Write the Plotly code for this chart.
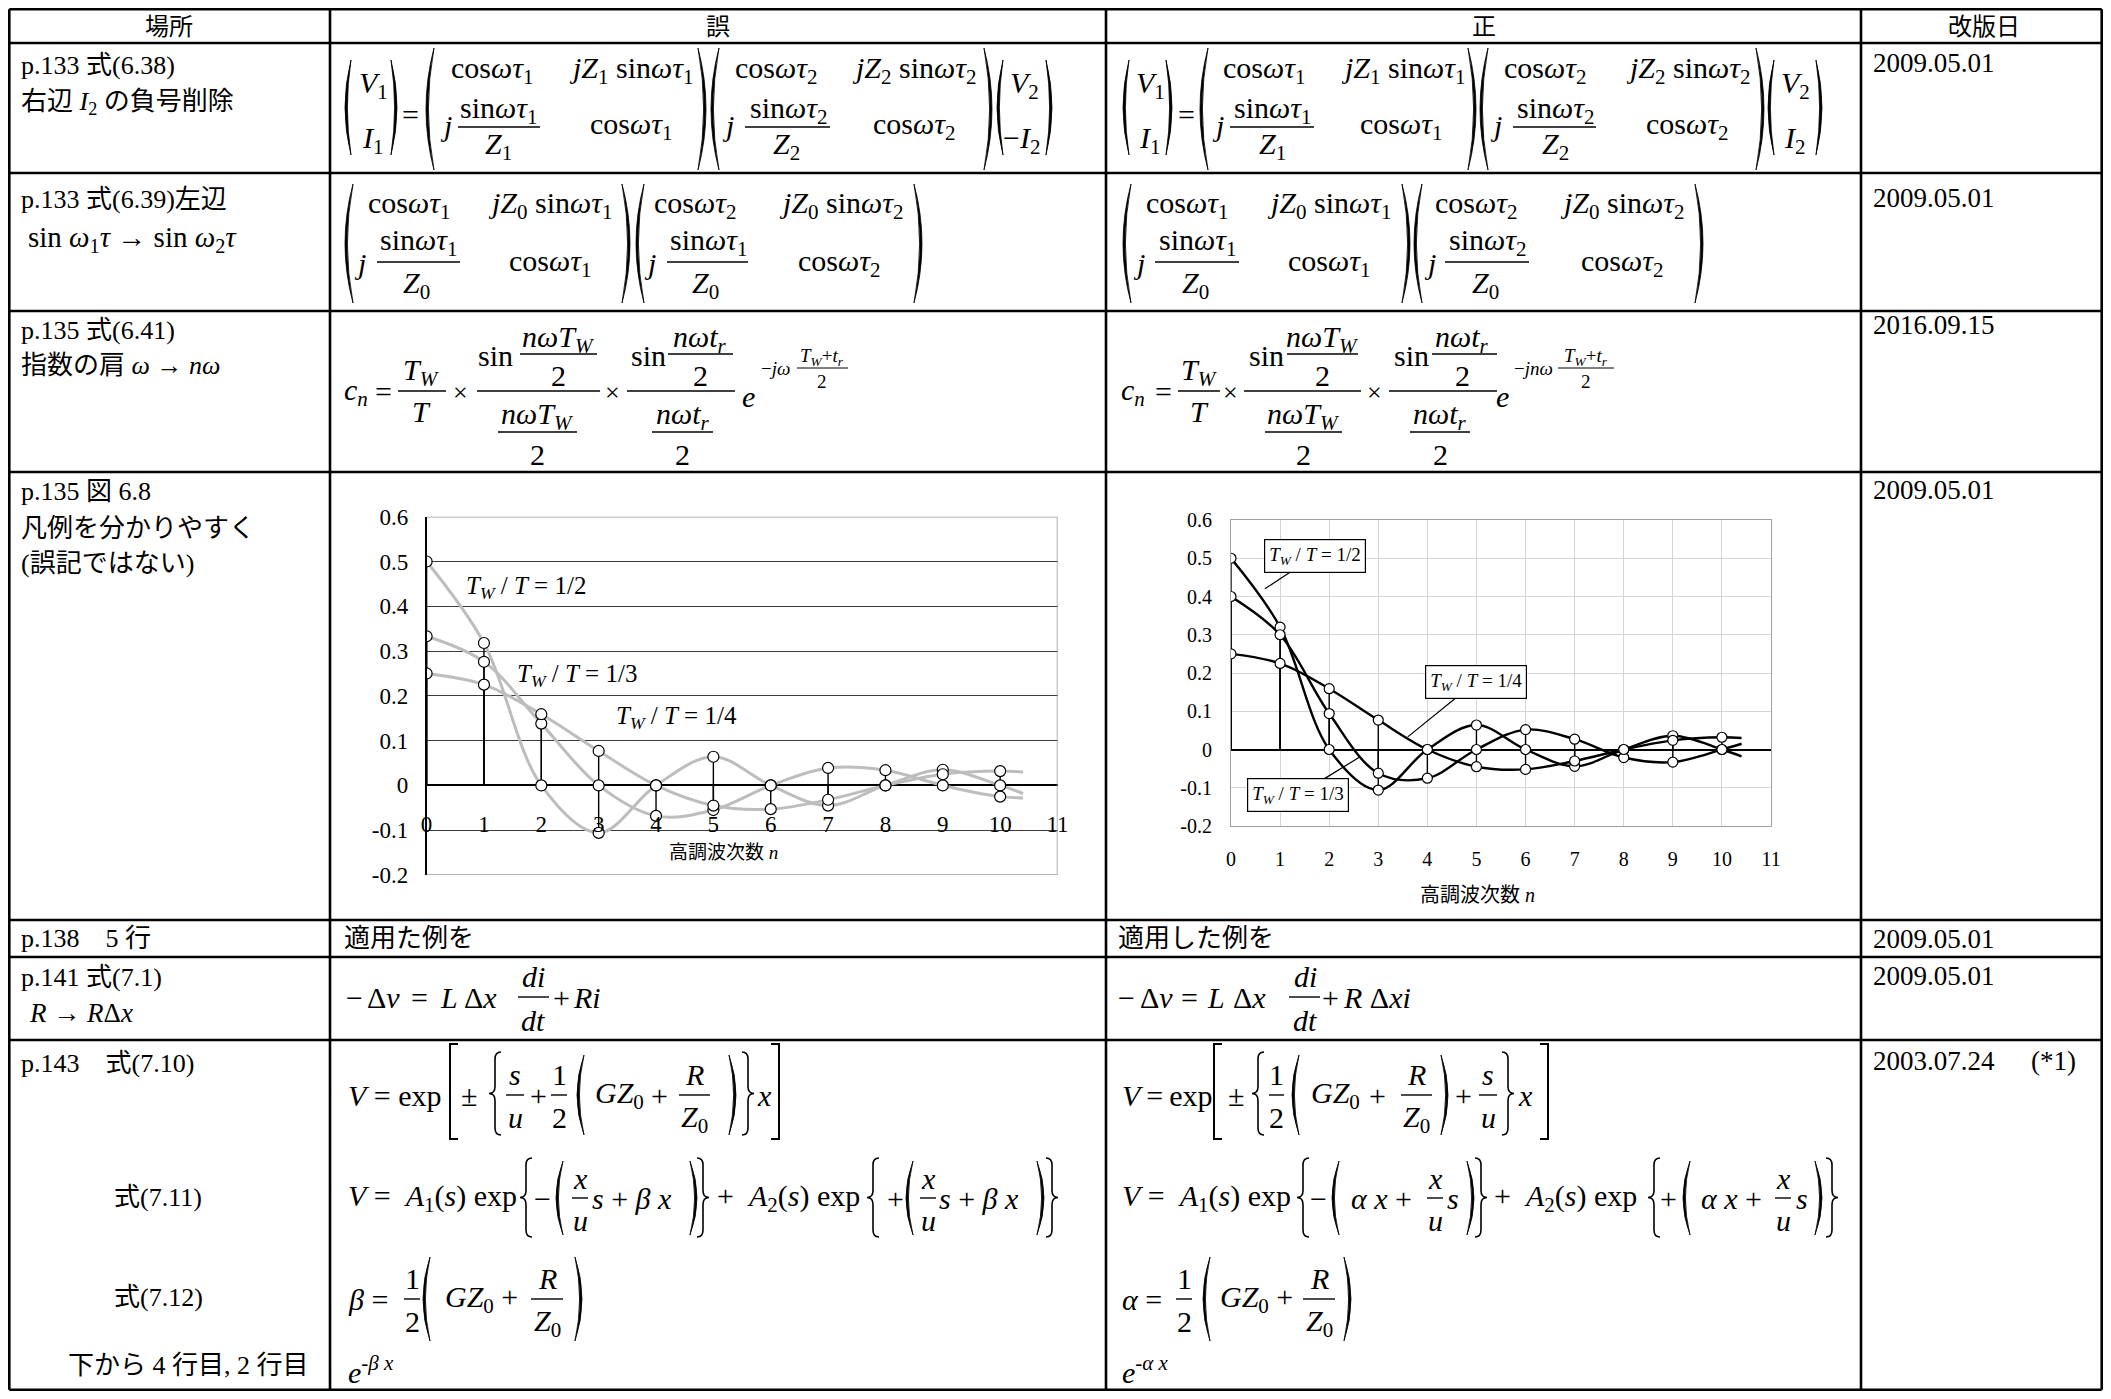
import plotly.graph_objects as go

# ---------------- chart data ----------------
harmonic_n = [0, 1, 2, 3, 4, 5, 6, 7, 8, 9, 10]
curve_end_n = 10.4

# left chart (誤)
wrong_tw_half = [0.5, 0.318, 0.0, -0.106, 0.0, 0.064, 0.0, -0.045, 0.0, 0.035, 0.0]
wrong_tw_third = [0.333, 0.276, 0.138, 0.0, -0.068, -0.055, 0.0, 0.039, 0.034, 0.0, -0.025]
wrong_tw_quarter = [0.25, 0.225, 0.159, 0.077, 0.0, -0.045, -0.053, -0.032, 0.0, 0.025, 0.032]
wrong_end_values = [-0.018, -0.028, 0.030]

# right chart (正)
right_tw_half = [0.5, 0.32, 0.0, -0.106, 0.0, 0.064, 0.0, -0.044, 0.0, 0.036, 0.0]
right_tw_third = [0.4, 0.30, 0.094, -0.062, -0.075, 0.0, 0.052, 0.027, -0.021, -0.033, 0.0]
right_tw_quarter = [0.25, 0.225, 0.159, 0.077, 0.0, -0.045, -0.052, -0.030, 0.0, 0.024, 0.032]
right_end_values = [-0.018, 0.015, 0.030]

y_tick_values = [-0.2, -0.1, 0, 0.1, 0.2, 0.3, 0.4, 0.5, 0.6]
y_tick_labels = ["-0.2", "-0.1", "0", "0.1", "0.2", "0.3", "0.4", "0.5", "0.6"]
x_tick_values = [0, 1, 2, 3, 4, 5, 6, 7, 8, 9, 10, 11]
x_tick_labels = ["0", "1", "2", "3", "4", "5", "6", "7", "8", "9", "10", "11"]
series_labels = ["<i>T</i><sub><i>W</i></sub> / <i>T</i> = 1/2",
                 "<i>T</i><sub><i>W</i></sub> / <i>T</i> = 1/3",
                 "<i>T</i><sub><i>W</i></sub> / <i>T</i> = 1/4"]
x_axis_title = "高調波次数 <i>n</i>"

header_labels = ["場所", "誤", "正", "改版日"]
revision_dates = ["2009.05.01", "2009.05.01", "2016.09.15", "2009.05.01",
                  "2009.05.01", "2009.05.01", "2003.07.24"]

# ---------------- page geometry helpers ----------------
W, H = 2095, 1383
SX, OX = 1.0, 8.0     # reference pixel -> figure pixel (body margin of the page)
SY, OY = 1.0, 8.0
FS = 1.0
SERIF = "Liberation Serif, Noto Sans CJK JP, serif"
SANS = "Noto Sans CJK JP, Liberation Sans, sans-serif"
NB = "\u00a0"


def fx(r):
    return min(max((r - OX) / SX, 1.3), W - 1.3)


def fy(r):
    return min(max((r - OY) / SY, 1.3), H - 1.3)


def X(r):
    return fx(r) / W


def Y(r):
    return 1 - fy(r) / H


ann = []
shp = []


def T(x, y, s, size=30, anchor='left', fam=SERIF):
    ann.append(dict(xref='paper', yref='paper', x=X(x), y=Y(y), text=s, showarrow=False,
                    xanchor=anchor, yanchor='middle', borderpad=0,
                    font=dict(family=fam, size=round(size * FS, 1), color='black')))


def C(x, y, s, size=30):
    T(x, y, s, size, 'center')


def line(x0, y0, x1, y1, w=1.5, color='black'):
    shp.append(dict(type='line', xref='paper', yref='paper', x0=X(x0), y0=Y(y0),
                    x1=X(x1), y1=Y(y1), line=dict(color=color, width=w)))


def bar(x0, x1, y, w=1.4):
    line(x0, y, x1, y, w)


def pth(s, w=1.6, fill=None):
    d = dict(type='path', xref='paper', yref='paper', path=s, line=dict(color='black', width=w))
    if fill:
        d['fillcolor'] = fill
    shp.append(d)


def pt(x, y):
    return f"{X(x):.6f},{Y(y):.6f}"


def paren_l(x, y0, y1, d=8, t=2.4):
    ym = (y0 + y1) / 2
    pth(f"M {pt(x + d, y0)} Q {pt(x - d, ym)} {pt(x + d, y1)} Q {pt(x - d + 2 * t, ym)} {pt(x + d, y0)} Z",
        w=0.8, fill='black')


def paren_r(x, y0, y1, d=8, t=2.4):
    ym = (y0 + y1) / 2
    pth(f"M {pt(x - d, y0)} Q {pt(x + d, ym)} {pt(x - d, y1)} Q {pt(x + d - 2 * t, ym)} {pt(x - d, y0)} Z",
        w=0.8, fill='black')


def brack_l(x, y0, y1, d=8):
    pth(f"M {pt(x + d, y0)} L {pt(x, y0)} L {pt(x, y1)} L {pt(x + d, y1)}", w=2)


def brack_r(x, y0, y1, d=8):
    pth(f"M {pt(x - d, y0)} L {pt(x, y0)} L {pt(x, y1)} L {pt(x - d, y1)}", w=2)


def brace_l(x, y0, y1, d=12, e=7):
    ym = (y0 + y1) / 2
    m = x + d / 2
    pth(f"M {pt(x + d, y0)} Q {pt(m, y0)} {pt(m, y0 + e)} L {pt(m, ym - e)} Q {pt(m, ym)} {pt(x, ym)} "
        f"Q {pt(m, ym)} {pt(m, ym + e)} L {pt(m, y1 - e)} Q {pt(m, y1)} {pt(x + d, y1)}", w=1.6)


def brace_r(x, y0, y1, d=12, e=7):
    ym = (y0 + y1) / 2
    m = x - d / 2
    pth(f"M {pt(x - d, y0)} Q {pt(m, y0)} {pt(m, y0 + e)} L {pt(m, ym - e)} Q {pt(m, ym)} {pt(x, ym)} "
        f"Q {pt(m, ym)} {pt(m, ym + e)} L {pt(m, y1 - e)} Q {pt(m, y1)} {pt(x - d, y1)}", w=1.6)


def it(s):
    return f"<i>{s}</i>"


def sub(s):
    return f"<sub>{s}</sub>"


def cosw(k):
    return f"cos{it('ωτ')}{sub(k)}"


def sinw(k):
    return f"sin{it('ωτ')}{sub(k)}"


def jzsin(z, k):
    return f"{it('jZ')}{sub(z)} sin{it('ωτ')}{sub(k)}"


# ---------------- table grid ----------------
col_x = [8, 330, 1106, 1861, 2106]
row_y = [4, 43, 173, 311, 472, 920, 957, 1040, 1395]
for cx in col_x:
    line(cx, row_y[0], cx, row_y[-1], 2.6)
for ry in row_y:
    line(col_x[0], ry, col_x[-1], ry, 2.6)

# header
for lab, cx in zip(header_labels, [(col_x[i] + col_x[i + 1]) / 2 for i in range(4)]):
    T(cx, 24, lab, 24, 'center', SANS)

# revision dates
for d, ry in zip(revision_dates, [63, 198, 325, 490, 939, 976, 1061]):
    T(1872, ry, d, 27)
T(2030, 1061, "(*1)", 27)

# location column
LF = 26
T(20, 65, "p.133 式(6.38)", LF)
T(20, 103, "右辺 " + it('I') + sub('2') + " の負号削除", LF)
T(20, 199, "p.133 式(6.39)左辺", LF)
T(27, 239, "sin " + it('ω') + sub('1') + it('τ') + " → sin " + it('ω') + sub('2') + it('τ'), 29)
T(20, 330, "p.135 式(6.41)", LF)
T(20, 365, "指数の肩 " + it('ω') + " → " + it('nω'), LF)
T(20, 491, "p.135 図 6.8", LF)
T(20, 528, "凡例を分かりやすく", LF)
T(20, 563, "(誤記ではない)", LF)
T(20, 939, "p.138　5 行", LF)
T(20, 977, "p.141 式(7.1)", LF)
T(28, 1013, it('R') + " → " + it('R') + "Δ" + it('x'), 27)
T(20, 1063, "p.143　式(7.10)", LF)
T(113, 1197, "式(7.11)", LF)
T(113, 1297, "式(7.12)", LF)
T(67, 1365, "下から 4 行目, 2 行目", LF)

# ---------------- row 1: eq (6.38) ----------------
R1_TOP, R1_V, R1_I, R1_EQ, R1_NUM, R1_BAR, R1_DEN, R1_ROW2 = 70, 85, 140, 114, 110, 127, 146, 126
MP0, MP1 = 48, 170
VP0, VP1 = 60, 155
# wrong
paren_l(345, VP0, VP1, 6); C(373, R1_V, it('V') + sub('1')); C(373, R1_I, it('I') + sub('1')); paren_r(397, VP0, VP1, 6)
C(410, R1_EQ, "=")
paren_l(426, MP0, MP1)
C(492, R1_TOP, cosw('1')); C(631, R1_TOP, jzsin('1', '1'))
C(446, R1_ROW2, it('j')); C(499, R1_NUM, sinw('1')); bar(458, 540, R1_BAR); C(498, R1_DEN, it('Z') + sub('1'))
C(631, R1_ROW2, cosw('1'))
paren_r(706, MP0, MP1); paren_l(711, MP0, MP1)
C(776, R1_TOP, cosw('2')); C(914, R1_TOP, jzsin('2', '2'))
C(728, R1_ROW2, it('j')); C(788, R1_NUM, sinw('2')); bar(745, 830, R1_BAR); C(786, R1_DEN, it('Z') + sub('2'))
C(914, R1_ROW2, cosw('2'))
paren_r(992, MP0, MP1)
paren_l(997, VP0, VP1, 6); C(1024, R1_V, it('V') + sub('2')); C(1021, R1_I, "−" + it('I') + sub('2')); paren_r(1052, VP0, VP1, 6)
# right
paren_l(1123, VP0, VP1, 6); C(1150, R1_V, it('V') + sub('1')); C(1150, R1_I, it('I') + sub('1')); paren_r(1172, VP0, VP1, 6)
C(1186, R1_EQ, "=")
paren_l(1200, MP0, MP1)
C(1264, R1_TOP, cosw('1')); C(1403, R1_TOP, jzsin('1', '1'))
C(1218, R1_ROW2, it('j')); C(1272, R1_NUM, sinw('1')); bar(1230, 1314, R1_BAR); C(1272, R1_DEN, it('Z') + sub('1'))
C(1401, R1_ROW2, cosw('1'))
paren_r(1476, MP0, MP1); paren_l(1480, MP0, MP1)
C(1545, R1_TOP, cosw('2')); C(1688, R1_TOP, jzsin('2', '2'))
C(1496, R1_ROW2, it('j')); C(1555, R1_NUM, sinw('2')); bar(1513, 1596, R1_BAR); C(1555, R1_DEN, it('Z') + sub('2'))
C(1687, R1_ROW2, cosw('2'))
paren_r(1764, MP0, MP1)
paren_l(1768, VP0, VP1, 6); C(1795, R1_V, it('V') + sub('2')); C(1795, R1_I, it('I') + sub('2')); paren_r(1822, VP0, VP1, 6)


# ---------------- row 2: eq (6.39) ----------------
def row2(m1l, c11, c12, j1, n1, b1, d1, c22, m1r, m2l, e11, e12, j2, n2, b2, d2, e22, m2r, num2):
    paren_l(m1l, 184, 303)
    C(c11, 205, cosw('1')); C(c12, 205, jzsin('0', '1'))
    C(j1, 263, it('j')); C(n1, 242, sinw('1')); bar(b1[0], b1[1], 262); C(d1, 285, it('Z') + sub('0'))
    C(c22, 263, cosw('1'))
    paren_r(m1r, 184, 303)
    paren_l(m2l, 184, 303)
    C(e11, 205, cosw('2')); C(e12, 205, jzsin('0', '2'))
    C(j2, 263, it('j')); C(n2, 242, sinw(num2)); bar(b2[0], b2[1], 262); C(d2, 285, it('Z') + sub('0'))
    C(e22, 263, cosw('2'))
    paren_r(m2r, 184, 303)


row2(345, 409, 550, 360, 418, (377, 460), 416, 550, 630, 636, 695, 841, 650, 708, (667, 748), 705, 839, 922, '1')
row2(1123, 1187, 1329, 1139, 1197, (1155, 1239), 1195, 1329, 1410, 1414, 1476, 1622, 1430, 1487, (1445, 1529), 1485, 1622, 1703, '2')


# ---------------- row 3: eq (6.41) ----------------
def row3(x0, eq, tw, tb, mul1, sin1, nu1, sb1, bb1, nl1, lb1, mul2, sin2, nu2, sb2, bb2, nl2, lb2, ex, expo, expo_txt, fr, fb):
    T(x0, 392, it('c') + sub(it('n')))
    C(eq, 391, "=")
    C(tw, 372, it('T') + sub(it('W'))); bar(tb[0], tb[1], 391); C(tw, 411, it('T'))
    C(mul1, 393, "×", 26)
    C(sin1, 355, "sin")
    C(nu1, 339, it('nωT') + sub(it('W'))); bar(sb1[0], sb1[1], 354); C(nu1, 375, "2")
    bar(bb1[0], bb1[1], 391)
    C(nl1, 416, it('nωT') + sub(it('W'))); bar(lb1[0], lb1[1], 432); C(nl1, 454, "2")
    C(mul2, 393, "×", 26)
    C(sin2, 355, "sin")
    C(nu2, 339, it('nωt') + sub(it('r'))); bar(sb2[0], sb2[1], 354); C(nu2, 375, "2")
    bar(bb2[0], bb2[1], 391)
    C(nl2, 416, it('nωt') + sub(it('r'))); bar(lb2[0], lb2[1], 432); C(nl2, 454, "2")
    C(ex, 396, it('e'))
    T(expo, 368, expo_txt, 19)
    C(fr, 357, it('T') + sub(it('W')) + "+" + it('t') + sub(it('r')), 19); bar(fb[0], fb[1], 368, 1)
    C(fr, 381, "2", 19)


row3(343, 383, 421, (398, 446), 460, 495, 558, (520, 597), (477, 600), 537, (498, 577),
     612, 648, 700, (668, 733), (627, 735), 683, (652, 713), 748, 760, "−" + it('jω'), 822, (797, 848))
row3(1120, 1163, 1199, (1178, 1220), 1230, 1266, 1322, (1287, 1358), (1244, 1361), 1303, (1265, 1342),
     1374, 1411, 1462, (1432, 1497), (1389, 1497), 1440, (1410, 1470), 1502, 1513, "−" + it('jnω'), 1586, (1558, 1614))

# ---------------- row 5 ----------------
T(343, 939, "適用た例を", LF)
T(1117, 939, "適用した例を", LF)

# ---------------- row 6: eq (7.1) ----------------
R6 = 997
for (mx, dv, eq, Lx, dx, fc, fb, pl, tail, tail_txt) in [
        (354, 366, 419, 439, 463, 533, (518, 549), 561, 572, it('Ri')),
        (1126, 1139, 1189, 1206, 1232, 1305, (1289, 1320), 1330, 1342, it('R') + " Δ" + it('xi'))]:
    C(mx, R6, "−"); T(dv, R6, "Δ" + it('v')); C(eq, R6, "=")
    T(Lx, R6, it('L')); T(dx, R6, "Δ" + it('x'))
    C(fc, R6 - 21, it('di')); bar(fb[0], fb[1], R6); C(fc, R6 + 23, it('dt'))
    C(pl, R6, "+"); T(tail, R6, tail_txt)

# ---------------- row 7: eqs (7.10)-(7.12) ----------------
Z0 = it('Z') + sub('0')
GZ0 = it('GZ') + sub('0')
E0 = 1095          # main line of (7.10)
UP, DN = E0 - 21, E0 + 22
B0, B1 = E0 - 51, E0 + 44
# (7.10) wrong
T(347, E0, it('V') + " = exp")
brack_l(450, B0, B1); C(469, E0, "±"); brace_l(489, E0 - 43, E0 + 40)
C(515, UP, it('s')); bar(506, 524, E0); C(515, DN, it('u'))
C(538, E0, "+")
C(559, UP, "1"); bar(551, 567, E0); C(559, DN, "2")
paren_l(577, E0 - 40, E0 + 40, 7)
T(594, E0, GZ0); C(659, E0, "+")
C(694, UP, it('R')); bar(679, 710, E0); C(694, DN + 2, Z0)
paren_r(736, E0 - 40, E0 + 40, 7); brace_r(754, E0 - 43, E0 + 40)
T(756, E0, it('x')); brack_r(779, B0, B1)
# (7.10) right
T(1121, E0, it('V') + "\u2009=\u2009exp")
brack_l(1214, B0, B1); C(1236, E0, "±"); brace_l(1252, E0 - 43, E0 + 40)
C(1276, UP, "1"); bar(1269, 1284, E0); C(1276, DN, "2")
paren_l(1292, E0 - 40, E0 + 40, 7)
T(1310, E0, GZ0); C(1377, E0, "+")
C(1416, UP, it('R')); bar(1401, 1432, E0); C(1416, DN + 2, Z0)
paren_r(1448, E0 - 40, E0 + 40, 7)
C(1463, E0, "+")
C(1488, UP, it('s')); bar(1479, 1497, E0); C(1488, DN, it('u'))
brace_r(1514, E0 - 43, E0 + 40)
T(1517, E0, it('x')); brack_r(1548, B0, B1)

A1 = it('V') + NB + "=" + NB + NB + it('A') + sub('1') + "(" + it('s') + ")" + NB + "exp"
A2 = "+" + NB + NB + it('A') + sub('2') + "(" + it('s') + ")" + NB + "exp"
E1 = 1198          # main line of (7.11)
U1, D1 = E1 - 20, E1 + 22
# (7.11) wrong
T(347, E1, A1)
brace_l(520, E1 - 40, E1 + 39); C(543, E1, "−"); paren_l(556, E1 - 37, E1 + 37, 7)
C(580, U1, it('x')); bar(572, 588, E1); C(580, D1, it('u'))
T(591, E1, it('s') + " + " + it('β') + " " + it('x'))
paren_r(697, E1 - 37, E1 + 37, 7); brace_r(709, E1 - 40, E1 + 39)
T(716, E1, A2)
brace_l(867, E1 - 40, E1 + 39); C(895, E1, "+"); paren_l(906, E1 - 37, E1 + 37, 7)
C(928, U1, it('x')); bar(920, 936, E1); C(928, D1, it('u'))
T(938, E1, it('s') + " + " + it('β') + " " + it('x'))
paren_r(1044, E1 - 37, E1 + 37, 7); brace_r(1058, E1 - 40, E1 + 39)
# (7.11) right
T(1121, E1, A1)
brace_l(1297, E1 - 40, E1 + 39); C(1318, E1, "−"); paren_l(1332, E1 - 37, E1 + 37, 7)
T(1350, E1, it('α') + " " + it('x') + " +")
C(1435, U1, it('x')); bar(1427, 1443, E1); C(1435, D1, it('u'))
T(1446, E1, it('s'))
paren_r(1474, E1 - 37, E1 + 37, 7); brace_r(1487, E1 - 40, E1 + 39)
T(1493, E1, A2)
brace_l(1648, E1 - 40, E1 + 39); C(1668, E1, "+"); paren_l(1683, E1 - 37, E1 + 37, 7)
T(1700, E1, it('α') + " " + it('x') + " +")
C(1783, U1, it('x')); bar(1775, 1791, E1); C(1783, D1, it('u'))
T(1795, E1, it('s'))
paren_r(1822, E1 - 37, E1 + 37, 7); brace_r(1838, E1 - 40, E1 + 39)

# (7.12)
for (x0, sym, one, pl, gz, rc, rb, pr) in [(347, 'β', 412, 423, 444, 547, (531, 563), 582),
                                           (1121, 'α', 1184, 1203, 1219, 1319, (1303, 1335), 1351)]:
    T(x0, 1299, it(sym) + " =")
    C(one, 1278, "1"); bar(one - 8, one + 8, 1299); C(one, 1321, "2")
    paren_l(pl, 1257, 1341, 7)
    T(gz, 1299, GZ0 + " +")
    C(rc, 1278, it('R')); bar(rb[0], rb[1], 1299); C(rc, 1323, Z0)
    paren_r(pr, 1257, 1341, 7)

T(347, 1370, it('e') + "<sup>-" + it('β x') + "</sup>")
T(1121, 1370, it('e') + "<sup>-" + it('α x') + "</sup>")

# ---------------- charts ----------------
fig = go.Figure()

wrong_series = [wrong_tw_half, wrong_tw_third, wrong_tw_quarter]
right_series = [right_tw_half, right_tw_third, right_tw_quarter]


def add_chart(series, ends, xa, ya, curve_color, curve_width, msize):
    for vals, end in zip(series, ends):
        fig.add_trace(go.Scatter(x=harmonic_n + [curve_end_n], y=vals + [end], mode='lines',
                                 line=dict(color=curve_color, width=curve_width, shape='spline', smoothing=1.0),
                                 xaxis=xa, yaxis=ya, hoverinfo='skip', showlegend=False))
    sx, sy = [], []
    for vals in series:
        for n, v in zip(harmonic_n, vals):
            sx += [n, n, None]
            sy += [0, v, None]
    fig.add_trace(go.Scatter(x=sx, y=sy, mode='lines', line=dict(color='black', width=1.4),
                             xaxis=xa, yaxis=ya, hoverinfo='skip', showlegend=False))
    for vals in series:
        fig.add_trace(go.Scatter(x=harmonic_n, y=vals, mode='markers',
                                 marker=dict(symbol='circle', size=msize, color='white',
                                             line=dict(color='black', width=1.2)),
                                 xaxis=xa, yaxis=ya, showlegend=False))


add_chart(wrong_series, wrong_end_values, 'x', 'y', '#bdbdbd', 3, 11)
add_chart(right_series, right_end_values, 'x2', 'y2', 'black', 2.4, 10)

# chart geometry (reference pixels)
L_X0, L_X1, L_Y0, L_Y1 = 426.6, 1057.5, 875, 516.7
L_ZERO = 785.3
R_X0, R_X1, R_Y0, R_Y1 = 1231, 1771, 826, 520

tickfont_l = dict(family="Liberation Serif", size=23, color='black')
tickfont_r = dict(family="Liberation Serif", size=20, color='black')

layout_axes = dict(
    xaxis=dict(domain=[X(L_X0), X(L_X1)], range=[0, 11], anchor='free', position=Y(L_ZERO),
               tickvals=x_tick_values, ticktext=x_tick_labels, ticks='outside', ticklen=18,
               tickcolor='rgba(0,0,0,0)', showgrid=False, zeroline=False, showline=False,
               tickfont=tickfont_l, fixedrange=True, automargin=False),
    yaxis=dict(domain=[Y(L_Y0), Y(L_Y1)], range=[-0.2, 0.6], anchor='x',
               tickvals=y_tick_values, ticktext=y_tick_labels, ticks='outside', ticklen=12,
               tickcolor='rgba(0,0,0,0)', showgrid=True, gridcolor='#3c3c3c', gridwidth=1.2,
               zeroline=True, zerolinecolor='black', zerolinewidth=1.6,
               showline=True, linecolor='black', linewidth=1.6, tickfont=tickfont_l,
               fixedrange=True, automargin=False),
    xaxis2=dict(domain=[X(R_X0), X(R_X1)], range=[0, 11], anchor='y2',
                tickvals=x_tick_values, ticktext=x_tick_labels, ticks='outside', ticklen=15,
                tickcolor='rgba(0,0,0,0)', showgrid=True, gridcolor='#d4d4d4', gridwidth=1,
                zeroline=False, showline=True, mirror=True, linecolor='#a0a0a0', linewidth=1.2,
                tickfont=tickfont_r, fixedrange=True, automargin=False),
    yaxis2=dict(domain=[Y(R_Y0), Y(R_Y1)], range=[-0.2, 0.6], anchor='x2',
                tickvals=y_tick_values, ticktext=y_tick_labels, ticks='outside', ticklen=14,
                tickcolor='rgba(0,0,0,0)', showgrid=True, gridcolor='#d4d4d4', gridwidth=1,
                zeroline=True, zerolinecolor='black', zerolinewidth=1.6,
                showline=True, mirror=True, linecolor='#a0a0a0', linewidth=1.2,
                tickfont=tickfont_r, fixedrange=True, automargin=False),
)

# left chart frame (top, right, bottom)
for (x0, y0, x1, y1) in [(0, 0.6, 11, 0.6), (11, 0.6, 11, -0.2), (0, -0.2, 11, -0.2)]:
    shp.append(dict(type='line', xref='x', yref='y', x0=x0, y0=y0, x1=x1, y1=y1,
                    line=dict(color='#9a9a9a', width=1.5)))

# left chart series labels
for lab, (lx, ly) in zip(series_labels, [(1.74, 0.443), (2.62, 0.246), (4.35, 0.152)]):
    ann.append(dict(xref='x', yref='y', x=lx, y=ly, text=lab, showarrow=False,
                    font=dict(family="Liberation Serif", size=25, color='black')))

# right chart callouts
for lab, (tx, ty, ax, ay) in zip(series_labels, [(0.69, 0.42, 50, -33), (2.63, -0.019, -62, 38),
                                                  (3.6, 0.033, 68, -55)]):
    ann.append(dict(xref='x2', yref='y2', x=tx, y=ty, ax=ax, ay=ay, text=lab, showarrow=True,
                    arrowhead=0, arrowwidth=1.2, arrowcolor='black', bordercolor='black',
                    borderwidth=1.2, borderpad=4, bgcolor='white',
                    font=dict(family="Liberation Serif", size=19, color='black')))

# axis titles
T(723, 852, x_axis_title, 19, 'center')
T(1477, 895, x_axis_title, 20, 'center')

fig.update_layout(width=W, height=H, autosize=False,
                  margin=dict(l=0, r=0, t=0, b=0, pad=0, autoexpand=False),
                  paper_bgcolor='white', plot_bgcolor='white', showlegend=False,
                  annotations=ann, shapes=shp, **layout_axes)

fig.write_html("out.html")
